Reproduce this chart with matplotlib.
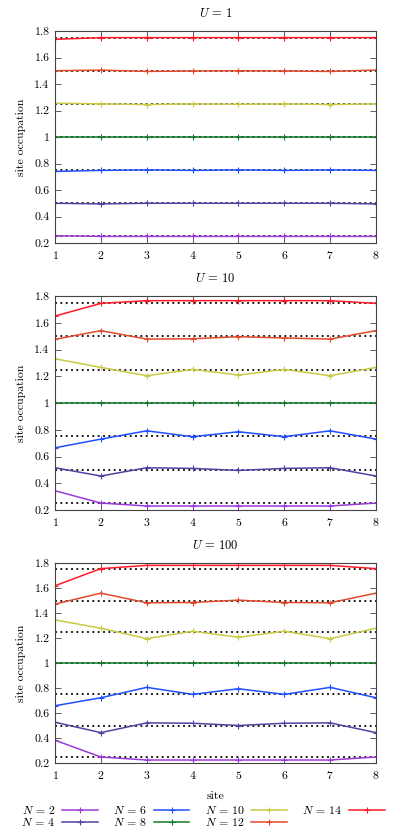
import numpy as np
import matplotlib
matplotlib.use("Agg")
import matplotlib.pyplot as plt

plt.rcParams["font.family"] = "cmr10"
plt.rcParams["mathtext.fontset"] = "cm"
plt.rcParams["axes.formatter.use_mathtext"] = True

sites = [1, 2, 3, 4, 5, 6, 7, 8]
particles = [2, 4, 6, 8, 10, 12, 14]
colors = ["#9a3ad8", "#4e44a0", "#2050ff", "#137a2a", "#c9c946", "#e04a2a", "#ff1a2a"]

# site occupations for U = 1
occ_u1 = {
    2: [0.255, 0.25, 0.25, 0.25, 0.25, 0.25, 0.25, 0.25],
    4: [0.50, 0.495, 0.50, 0.50, 0.50, 0.50, 0.50, 0.495],
    6: [0.74, 0.748, 0.752, 0.748, 0.752, 0.748, 0.752, 0.748],
    8: [1.0, 1.0, 1.0, 1.0, 1.0, 1.0, 1.0, 1.0],
    10: [1.255, 1.25, 1.245, 1.25, 1.247, 1.25, 1.245, 1.25],
    12: [1.50, 1.505, 1.495, 1.498, 1.50, 1.498, 1.495, 1.505],
    14: [1.737, 1.75, 1.75, 1.75, 1.75, 1.75, 1.75, 1.75],
}

# site occupations for U = 10
occ_u10 = {
    2: [0.344, 0.252, 0.230, 0.230, 0.230, 0.230, 0.230, 0.252],
    4: [0.516, 0.454, 0.516, 0.511, 0.496, 0.511, 0.516, 0.454],
    6: [0.665, 0.730, 0.792, 0.748, 0.785, 0.748, 0.792, 0.730],
    8: [1.0, 1.0, 1.0, 1.0, 1.0, 1.0, 1.0, 1.0],
    10: [1.331, 1.266, 1.204, 1.251, 1.209, 1.251, 1.204, 1.266],
    12: [1.476, 1.541, 1.478, 1.480, 1.496, 1.486, 1.478, 1.541],
    14: [1.650, 1.745, 1.765, 1.765, 1.765, 1.765, 1.765, 1.745],
}

# site occupations for U = 100
occ_u100 = {
    2: [0.382, 0.248, 0.224, 0.224, 0.224, 0.224, 0.224, 0.248],
    4: [0.526, 0.443, 0.521, 0.518, 0.500, 0.518, 0.521, 0.443],
    6: [0.658, 0.722, 0.805, 0.749, 0.794, 0.749, 0.805, 0.722],
    8: [1.0, 1.0, 1.0, 1.0, 1.0, 1.0, 1.0, 1.0],
    10: [1.345, 1.278, 1.195, 1.254, 1.206, 1.254, 1.195, 1.278],
    12: [1.471, 1.559, 1.482, 1.484, 1.503, 1.484, 1.482, 1.559],
    14: [1.618, 1.755, 1.781, 1.781, 1.781, 1.781, 1.781, 1.755],
}

panels = [("$U\\,=\\,1$", occ_u1), ("$U\\,=\\,10$", occ_u10), ("$U\\,=\\,100$", occ_u100)]
mean_levels = [0.25, 0.5, 0.75, 1.0, 1.25, 1.5, 1.75]

W, H = 394, 836
fig = plt.figure(figsize=(W / 100, H / 100), dpi=100)

# axes boxes in pixels: (top, bottom)
boxes = [(31, 243), (296, 510), (563, 763)]
left, right = 55, 376

handles = []
for (title, occ), (top, bottom) in zip(panels, boxes):
    ax = fig.add_axes([left / W, 1 - bottom / H, (right - left) / W, (bottom - top) / H])
    for lvl in mean_levels:
        ax.plot([1, 8], [lvl, lvl], color="black", ls=(0, (1.2, 2.0)), lw=1.2, zorder=1)
    hs = []
    for n, c in zip(particles, colors):
        h, = ax.plot(sites, occ[n], color=c, lw=1.1, marker="+", ms=4, mew=0.8,
                     label=f"$N\\,=\\,{n}$", zorder=2)
        hs.append(h)
    handles = hs
    ax.set_xlim(1, 8)
    ax.set_ylim(0.2, 1.8)
    ax.set_xticks(sites)
    ax.set_yticks([0.2, 0.4, 0.6, 0.8, 1.0, 1.2, 1.4, 1.6, 1.8])
    ax.set_yticklabels(["0.2", "0.4", "0.6", "0.8", "1", "1.2", "1.4", "1.6", "1.8"])
    ax.tick_params(direction="in", top=True, right=True, labelsize=8.5, length=4,
                   width=0.6, color="#444444", pad=4)
    for s in ax.spines.values():
        s.set_color("#444444")
        s.set_linewidth(0.8)
    ax.set_title(title, fontsize=9, pad=10)
    ax.set_ylabel("site occupation", fontsize=8.5, labelpad=6)

ax.set_xlabel("site", fontsize=8.5, labelpad=8)

fig.legend(handles=handles, ncol=4, loc="lower left", bbox_to_anchor=(0.035, 0.0),
           frameon=False, markerfirst=False, fontsize=8.5, handlelength=3.0,
           columnspacing=1.3, handletextpad=0.6, labelspacing=0.05, borderpad=0.15)

fig.savefig("out.png", dpi=100)
